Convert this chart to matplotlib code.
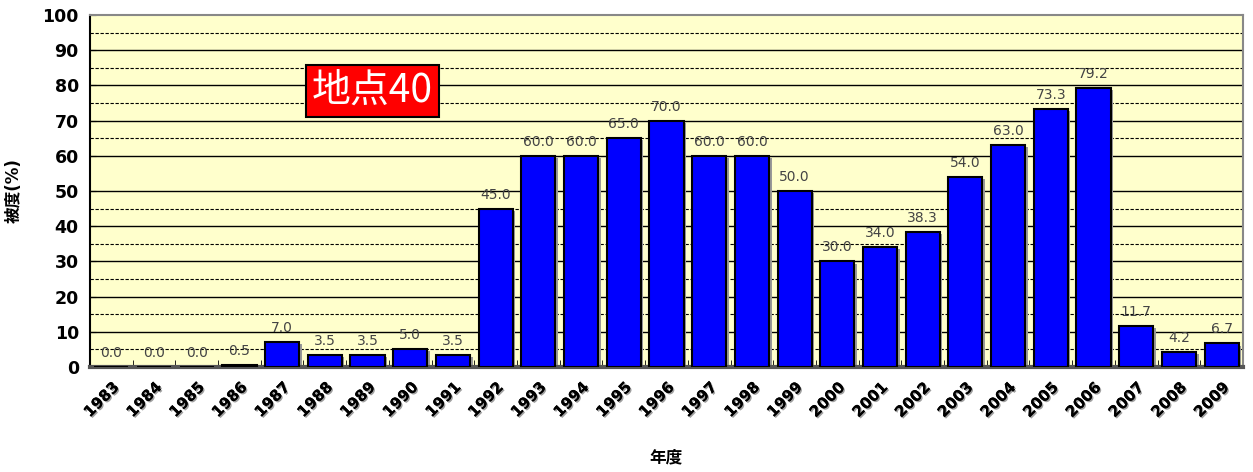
import matplotlib
matplotlib.use("Agg")
import matplotlib.pyplot as plt
import matplotlib.patheffects as pe
import numpy as np

plt.rcParams['font.family'] = ['DejaVu Sans', 'Noto Sans CJK JP']

years = [str(y) for y in range(1983, 2010)]
values = [0.0, 0.0, 0.0, 0.5, 7.0, 3.5, 3.5, 5.0, 3.5, 45.0, 60.0, 60.0, 65.0,
          70.0, 60.0, 60.0, 50.0, 30.0, 34.0, 38.3, 54.0, 63.0, 73.3, 79.2,
          11.7, 4.2, 6.7]
major_grid = [10, 20, 30, 40, 50, 60, 70, 80, 90]
minor_grid = [5, 15, 25, 35, 45, 65, 75, 85, 95]
yticks = list(range(0, 101, 10))
title_text = "地点40"
ylabel = "被度(%)"
xlabel = "年度"

fig = plt.figure(figsize=(12.53, 4.72), dpi=100)
ax = fig.add_axes([0.0718, 0.2225, 0.9202, 0.7455])
ax.set_facecolor('#FFFFCC')

x = np.arange(len(years))
ax.set_xlim(-0.5, len(years) - 0.5)
ax.set_ylim(0, 100)

for g in major_grid:
    ax.axhline(g, color='black', lw=1.0, zorder=1)
for g in minor_grid:
    ax.axhline(g, color='black', lw=0.8, ls=(0, (3, 1.5)), zorder=1)

# shadow
ax.bar(x + 0.06, values, width=0.8, bottom=-0.6, color='#999999', zorder=2, lw=0)
ax.bar(x, values, width=0.8, color='#0000FF', edgecolor='black', lw=1.5, zorder=3)

for xi, v in zip(x, values):
    ax.text(xi, v + 2.0, f"{v:.1f}", ha='center', va='bottom', fontsize=10,
            color='#444444', zorder=4)

ax.set_xticks(x)
ax.set_xticklabels(years, rotation=45, ha='right', va='top', rotation_mode='anchor',
                   fontsize=11, fontweight='bold')
ax.tick_params(axis='x', length=0, pad=9)
for t in ax.get_xticklabels():
    t.set_path_effects([pe.withSimplePatchShadow(offset=(1, -1), shadow_rgbFace='#888888', alpha=0.8), pe.Normal()])
# boundary ticks
ax.set_xticks(np.arange(-0.5, len(years), 1), minor=True)
ax.tick_params(axis='x', which='minor', direction='in', length=5, color='black')

ax.set_yticks(yticks)
ax.set_yticklabels([str(t) for t in yticks], fontsize=12.5, fontweight='bold')
ax.tick_params(axis='y', direction='in', length=4, pad=8)

ax.set_ylabel(ylabel, fontsize=12, fontweight='bold', labelpad=14)
ax.set_xlabel(xlabel, fontsize=12, fontweight='bold', labelpad=20)

ax.spines['left'].set_color('black'); ax.spines['left'].set_linewidth(1.5)
ax.spines['bottom'].set_color('#555555'); ax.spines['bottom'].set_linewidth(3)
for s in ['top', 'right']:
    ax.spines[s].set_color('#888888'); ax.spines[s].set_linewidth(1.5)

ax.text(0.1925, 0.784, title_text, transform=ax.transAxes, fontsize=28,
        color='white', family=['Noto Sans CJK JP', 'DejaVu Sans'], ha='left', va='center',
        bbox=dict(boxstyle='square,pad=0.15', facecolor='#FF0000', edgecolor='black', lw=1.5),
        zorder=5)

fig.savefig('out.png', dpi=100)
